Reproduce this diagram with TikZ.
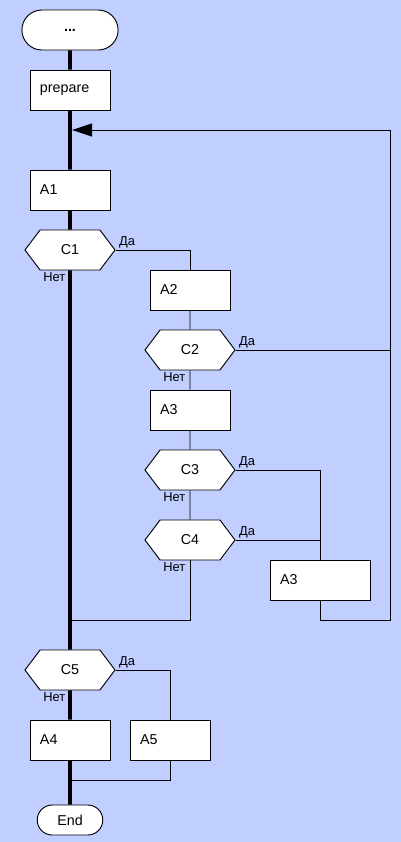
\documentclass[tikz,border=0pt]{standalone}
\usepackage{fontspec}
\setmainfont{Liberation Sans}
\usetikzlibrary{arrows.meta,shapes.misc,shapes.symbols}
\definecolor{bgblue}{RGB}{192,207,255}

\begin{document}
\begin{tikzpicture}[x=0.03cm,y=-0.03cm,line width=0.8pt,
  box/.style={draw,fill=white,minimum height=1.2cm,text width=1.8cm,inner xsep=0.3cm,align=left,font=\fontsize{12.2}{14}\selectfont},
  widebox/.style={box,text width=2.4cm},
  cond/.style={signal,signal to=east and west,signal pointer angle=106,draw,fill=white,minimum width=2.7cm,minimum height=1.2cm,inner sep=0pt,font=\fontsize{12.2}{14}\selectfont},
  term/.style={rounded rectangle,draw,fill=white,font=\fontsize{12.2}{14}\selectfont},
  lbl/.style={font=\fontsize{11}{13}\selectfont,inner sep=1pt},
  main/.style={line width=3.4pt}]
  % fondo
  \fill[bgblue] (0,0) rectangle (401,842);
  \useasboundingbox (0,0) rectangle (401,842);
  % columna principal
  \node[term,minimum width=3.12cm,minimum height=1.2cm] (start) at (70,30) {\textbf{...}};
  \node[box] (prep) at (70,90) {prepare};
  \node[box] (a1) at (70,190) {A1};
  \node[cond] (c1) at (70,250) {C1};
  \node[cond] (c5) at (70,670) {C5};
  \node[box] (a4) at (70,740) {A4};
  \node[box] (a5) at (170,740) {A5};
  \node[term,minimum width=2.2cm,minimum height=0.9cm] (end) at (70,820) {End};
  % ветка Да
  \node[box] (a2) at (190,290) {A2};
  \node[cond] (c2) at (190,350) {C2};
  \node[box] (a3) at (190,410) {A3};
  \node[cond] (c3) at (190,470) {C3};
  \node[cond] (c4) at (190,540) {C4};
  \node[widebox] (a3b) at (320,580) {A3};
  \coordinate (loop) at (72,130);
  \coordinate (rt) at (390,620);
  \coordinate (m1) at (70,620);
  \coordinate (m2) at (70,780);
  % conectores
  \draw[main] (start) -- (prep) (prep) -- (a1) (a1) -- (c1) (c1) -- (c5)
    (c5) -- (a4) (a4) -- (end);
  \draw (c1.east) -| (a2.north);
  \draw (a2) -- (c2) (c2) -- (a3) (a3) -- (c3) (c3) -- (c4);
  \draw (c2.east) -- (c2.east -| rt);
  \draw (c3.east) -| (a3b.north);
  \draw (c4.east) -- (c4.east -| a3b.north);
  \draw (c4.south) |- (m1);
  \draw[-{Triangle[length=0.6cm,width=0.39cm]}] (a3b.south) |- (rt) -- (rt |- loop) -- (loop);
  \draw (c5.east) -| (a5.north);
  \draw (a5.south) |- (m2);
  % etiquetas
  \foreach \c in {c1,c2,c3,c4,c5}{
    \node[lbl,anchor=south west] at ([xshift=0.06cm]\c.east) {Да};
    \node[lbl,anchor=north east] at ([xshift=-0.09cm,yshift=-0.03cm]\c.south) {Нет};
  }
\end{tikzpicture}
\end{document}
